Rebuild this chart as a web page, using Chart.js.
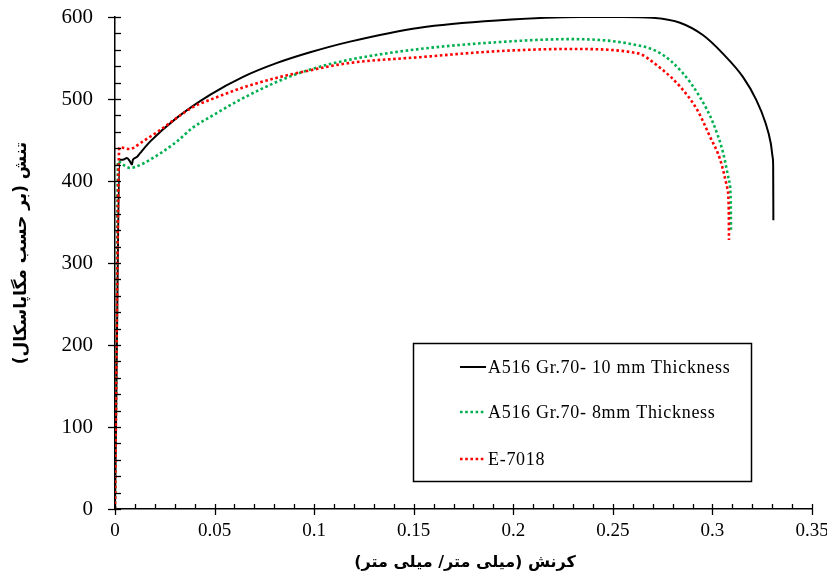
<!DOCTYPE html>
<html>
<head>
<meta charset="utf-8">
<script src="https://cdn.jsdelivr.net/npm/chart.js@4/dist/chart.umd.min.js"></script>
<style>
html,body{margin:0;padding:0;background:#fff;}
#wrap{width:827px;height:579px;position:relative;}
</style>
</head>
<body>
<div id="wrap"><canvas id="c" width="827" height="579"></canvas></div>
<script>
// ---- data ----
const labels = ["A516 Gr.70- 10 mm Thickness", "A516 Gr.70- 8mm Thickness", "E-7018"];
const xTickValues = [0, 0.05, 0.1, 0.15, 0.2, 0.25, 0.3, 0.35];
const yTickValues = [0, 100, 200, 300, 400, 500, 600];
const xTitle = "کرنش (میلی متر/ میلی متر)";
const yTitle = "تنش (بر حسب مگاپاسکال)";

const strain10 = [0, 0.0025, 0.004, 0.006, 0.0075, 0.0085, 0.009, 0.0109, 0.0126, 0.0176, 0.031, 0.0477, 0.0643, 0.0814, 0.098, 0.118, 0.153, 0.1934, 0.2335, 0.255, 0.27, 0.2837, 0.2952, 0.305, 0.3153, 0.322, 0.3265, 0.3293, 0.3303, 0.3305, 0.3306];
const stress10 = [0, 426, 426, 428, 424, 420, 426, 429, 434, 448, 477, 505, 527, 544, 557, 570, 587, 596, 600, 600, 599, 593, 578, 556, 527, 499, 472, 446, 428, 418, 352];

const strain8 = [0, 0.0008, 0.0015, 0.004, 0.0075, 0.01, 0.0176, 0.031, 0.039, 0.0477, 0.0643, 0.0814, 0.098, 0.118, 0.153, 0.1934, 0.2285, 0.257, 0.2737, 0.285, 0.2938, 0.3003, 0.3054, 0.3084, 0.3092, 0.3093];
const stress8 = [0, 230, 424, 420, 416, 417, 426, 448, 465, 478, 501, 521, 536, 548, 561, 569.5, 573, 568, 556, 532, 502, 471, 434, 400, 375, 340];

const strainE = [0, 0.0022, 0.0075, 0.009, 0.0126, 0.0226, 0.031, 0.039, 0.0477, 0.0643, 0.0814, 0.098, 0.118, 0.153, 0.1934, 0.2285, 0.262, 0.2737, 0.2838, 0.2923, 0.2988, 0.3039, 0.3074, 0.3082, 0.3083];
const stressE = [0, 441, 439, 440, 446, 462, 477, 490, 499, 514, 526, 535, 544, 551, 558.5, 561, 556, 538, 515, 487, 454, 426, 392, 365, 328];

const colors = ["#000000", "#00b050", "#ff0000"];

function pts(xs, ys){ return xs.map((x,i)=>({x:x, y:ys[i]})); }

const serif = "'Liberation Serif', 'Times New Roman', serif";
const arabicFont = "'DejaVu Sans', 'Noto Sans', sans-serif";

const decoPlugin = {
  id: 'deco',
  afterDraw(chart){
    const ctx = chart.ctx;
    const xs = chart.scales.x, ys = chart.scales.y;
    const ca = chart.chartArea;
    ctx.save();
    ctx.strokeStyle = '#000';
    ctx.lineWidth = 1.3;
    // y ticks
    for (let v = 0; v <= 600; v += 20) {
      const py = Math.round(ys.getPixelForValue(v)) + 0.5;
      const major = (v % 100 === 0);
      ctx.beginPath();
      ctx.moveTo(major ? ca.left - 7 : ca.left, py);
      ctx.lineTo(ca.left + 6, py);
      ctx.stroke();
    }
    // x ticks
    for (let i = 0; i <= 35; i++) {
      const v = i / 100;
      const px = Math.round(xs.getPixelForValue(v)) + 0.5;
      const major = (i % 5 === 0);
      ctx.beginPath();
      ctx.moveTo(px, major ? ca.bottom + 6 : ca.bottom);
      ctx.lineTo(px, ca.bottom - 5);
      ctx.stroke();
    }
    // titles
    ctx.fillStyle = '#000';
    ctx.textAlign = 'center';
    ctx.textBaseline = 'middle';
    ctx.direction = 'rtl';
    ctx.font = "bold 16px " + arabicFont;
    ctx.fillText(xTitle, 465, 563);
    ctx.save();
    ctx.translate(22, 253);
    ctx.rotate(-Math.PI/2);
    ctx.font = "bold 17px " + arabicFont;
    ctx.fillText(yTitle, 0, 0);
    ctx.restore();
    ctx.direction = 'ltr';
    // legend box
    const bx = 413.5, by = 343.5, bw = 338, bh = 138;
    ctx.fillStyle = '#fff';
    ctx.fillRect(bx, by, bw, bh);
    ctx.lineWidth = 1.5;
    ctx.strokeStyle = '#000';
    ctx.strokeRect(bx, by, bw, bh);
    const rows = [367, 412, 459];
    chart.data.datasets.forEach((ds, i) => {
      const y = rows[i];
      ctx.beginPath();
      ctx.strokeStyle = ds.borderColor;
      ctx.lineWidth = ds.borderWidth;
      ctx.setLineDash(ds.borderDash || []);
      ctx.moveTo(460, y);
      ctx.lineTo(486, y);
      ctx.stroke();
      ctx.setLineDash([]);
      ctx.fillStyle = '#000';
      ctx.font = "18px " + serif;
      try { ctx.letterSpacing = '0.7px'; } catch(e) {}
      ctx.textAlign = 'left';
      ctx.textBaseline = 'middle';
      ctx.fillText(ds.label, 488, y + 1);
      try { ctx.letterSpacing = '0px'; } catch(e) {}
    });
    ctx.restore();
  }
};

new Chart(document.getElementById('c'), {
  type: 'scatter',
  data: {
    datasets: [
      { label: labels[0], data: pts(strain10, stress10), showLine: true, borderColor: colors[0], borderWidth: 2, pointRadius: 0, cubicInterpolationMode: 'monotone', order: 3 },
      { label: labels[1], data: pts(strain8, stress8), showLine: true, borderColor: colors[1], borderWidth: 2.6, borderDash: [2.6, 2.6], borderCapStyle: 'butt', pointRadius: 0, cubicInterpolationMode: 'monotone', order: 2 },
      { label: labels[2], data: pts(strainE, stressE), showLine: true, borderColor: colors[2], borderWidth: 2.6, borderDash: [2.6, 2.6], borderCapStyle: 'butt', pointRadius: 0, cubicInterpolationMode: 'monotone', order: 1 }
    ]
  },
  options: {
    responsive: false,
    animation: false,
    layout: { padding: { left: 0, top: 17, right: 15, bottom: 0 } },
    plugins: { legend: { display: false }, tooltip: { enabled: false } },
    scales: {
      x: {
        type: 'linear', min: 0, max: 0.35,
        afterBuildTicks(s){ s.ticks = xTickValues.map(v => ({value: v})); },
        afterFit(s){ s.height = 70; s.paddingLeft = 0; s.paddingRight = 0; },
        grid: { display: true, drawOnChartArea: false, drawTicks: false },
        border: { display: true, color: '#000', width: 1.5 },
        ticks: { color: '#000', font: { family: serif, size: 19 }, padding: 11, maxRotation: 0,
          callback: (v) => String(v) }
      },
      y: {
        type: 'linear', min: 0, max: 600,
        afterBuildTicks(s){ s.ticks = yTickValues.map(v => ({value: v})); },
        afterFit(s){ s.width = 115; s.paddingTop = 0; s.paddingBottom = 0; },
        grid: { display: true, drawOnChartArea: false, drawTicks: false },
        border: { display: true, color: '#000', width: 1.5 },
        ticks: { color: '#000', font: { family: serif, size: 21 }, padding: 22 }
      }
    }
  },
  plugins: [decoPlugin]
});
</script>
</body>
</html>
